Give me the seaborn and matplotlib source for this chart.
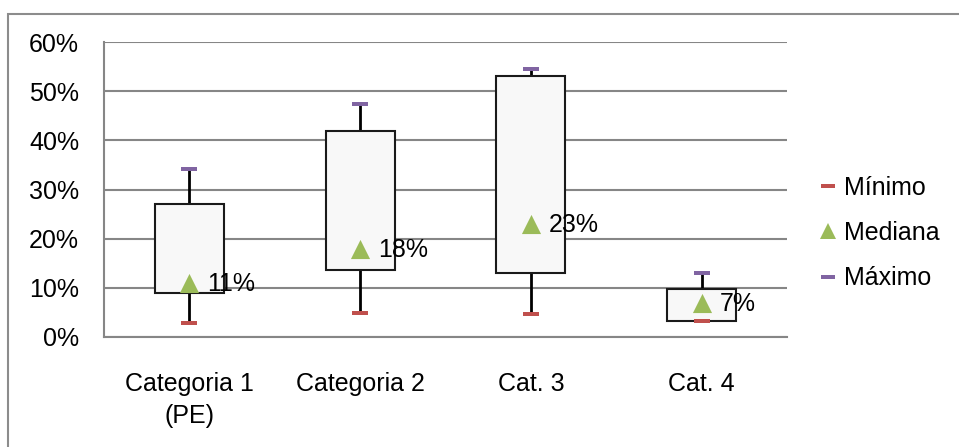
import numpy as np
import pandas as pd
import seaborn as sns
import matplotlib.pyplot as plt
from matplotlib.lines import Line2D
from matplotlib.patches import Rectangle
from matplotlib.ticker import FuncFormatter, FixedLocator

categories = ['Categoria 1\n(PE)', 'Categoria 2', 'Cat. 3', 'Cat. 4']
minimo = [0.029, 0.048, 0.047, 0.032]
q1 = [0.09, 0.136, 0.131, 0.032]
mediana = [0.11, 0.18, 0.23, 0.07]
q3 = [0.27, 0.42, 0.531, 0.097]
maximo = [0.341, 0.473, 0.545, 0.13]

red = '#C0504D'
green = '#9BBB59'
purple = '#8064A2'
grid_color = '#868686'

sns.set_style('white')
plt.rcParams['font.family'] = ['Liberation Sans', 'DejaVu Sans']
plt.rcParams['font.size'] = 18
plt.rcParams['text.color'] = 'black'
plt.rcParams['xtick.labelcolor'] = 'black'
plt.rcParams['ytick.labelcolor'] = 'black'

df = pd.DataFrame({'cat': categories, 'x': np.arange(len(categories)),
                   'min': minimo, 'q1': q1, 'med': mediana, 'q3': q3, 'max': maximo})

fig = plt.figure(figsize=(9.59, 4.47), dpi=100)
ax = fig.add_axes([104 / 959, 1 - 337 / 447, 683 / 959, 295 / 447])

# outer chart border
fig.patches.append(Rectangle((8 / 959, -0.1), 1.2, 1 - 14 / 447 + 0.1, transform=fig.transFigure,
                             fill=False, edgecolor='#8C8C8C', linewidth=1.5, zorder=0))

# whiskers
ax.vlines(df['x'], df['q3'], df['max'], color='black', linewidth=2, zorder=2)
ax.vlines(df['x'], df['min'], df['q1'], color='black', linewidth=2, zorder=2)

# boxes
ax.bar(df['x'], df['q3'] - df['q1'], bottom=df['q1'], width=0.405,
       color='#F8F8F8', edgecolor='#1a1a1a', linewidth=1.5, zorder=3)

dash = [(-1, -0.28), (1, -0.28), (1, 0.28), (-1, 0.28)]
sns.scatterplot(data=df, x='x', y='min', marker=dash, s=125, color=red,
                linewidth=0, ax=ax, zorder=4)
sns.scatterplot(data=df, x='x', y='max', marker=dash, s=125, color=purple,
                linewidth=0, ax=ax, zorder=4)
sns.scatterplot(data=df, x='x', y='med', marker='^', s=190, color=green,
                linewidth=0, ax=ax, zorder=5)

for xi, m in zip(df['x'], df['med']):
    ax.annotate(f'{m:.0%}', (xi, m), xytext=(13, -1), textcoords='offset points',
                ha='left', va='center', fontsize=18, zorder=6)

ax.set_xlim(-0.5, len(categories) - 0.5)
ax.set_ylim(0, 0.6)
ax.set_yticks(np.arange(0, 0.61, 0.1))
ax.yaxis.set_major_formatter(FuncFormatter(lambda v, p: f'{v:.0%}'))
ax.yaxis.grid(True, color=grid_color, linewidth=1.5)
ax.set_axisbelow(True)

ax.xaxis.set_major_locator(FixedLocator(np.arange(-0.5, len(categories), 1)))
ax.xaxis.set_minor_locator(FixedLocator(df['x']))
ax.set_xticklabels([], minor=False)
ax.set_xticklabels(categories, minor=True, linespacing=1.45)
ax.tick_params(axis='x', which='major', length=8, width=1.5, color=grid_color, direction='out')
ax.tick_params(axis='x', which='minor', length=0, pad=25, labelsize=18)
ax.tick_params(axis='y', length=8, width=1.5, color=grid_color, direction='out', pad=10, labelsize=18)
ax.set_xlabel('')
ax.set_ylabel('')

for side in ['top', 'right']:
    ax.spines[side].set_visible(False)
for side in ['left', 'bottom']:
    ax.spines[side].set_color(grid_color)
    ax.spines[side].set_linewidth(1.5)

handles = [
    Line2D([], [], linestyle='none', marker=dash, markersize=10, color=red, markeredgewidth=0),
    Line2D([], [], linestyle='none', marker='^', markersize=12, color=green, markeredgewidth=0),
    Line2D([], [], linestyle='none', marker=dash, markersize=10, color=purple, markeredgewidth=0),
]
fig.legend(handles, ['Mínimo', 'Mediana', 'Máximo'], loc='center left',
           bbox_to_anchor=(820 / 959, 1 - 233 / 447), frameon=False, fontsize=18,
           borderpad=0, borderaxespad=0, handlelength=0.64, handletextpad=0.3,
           labelspacing=0.85)

fig.savefig('out.png', dpi=100)
